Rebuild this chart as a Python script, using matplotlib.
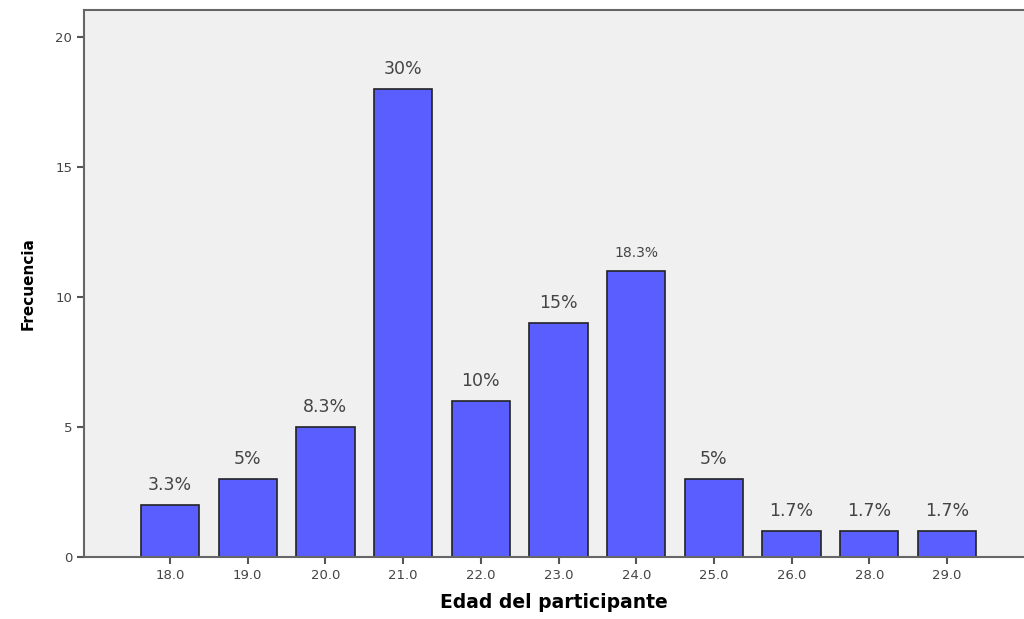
import numpy as np
import matplotlib.pyplot as plt

# datos del grafico
edades = ["18.0", "19.0", "20.0", "21.0", "22.0", "23.0", "24.0", "25.0", "26.0", "28.0", "29.0"]
frecuencia = [2, 3, 5, 18, 6, 9, 11, 3, 1, 1, 1]
porcentajes = ["3.3%", "5%", "8.3%", "30%", "10%", "15%", "18.3%", "5%", "1.7%", "1.7%", "1.7%"]

fig = plt.figure(figsize=(10.24, 6.19), dpi=100)
ax = fig.add_axes([84 / 1024, 1 - 557 / 619, 1 - 84 / 1024, (557 - 10) / 619])
ax.set_facecolor("#f0f0f0")

x = np.arange(len(edades))
ax.bar(x, frecuencia, width=0.75, color="#5a5eff", edgecolor="#222222", linewidth=1.2, zorder=2)

for xi, yi, lab in zip(x, frecuencia, porcentajes):
    size = 10 if lab == "18.3%" else 12.5
    ax.annotate(lab, (xi, yi), xytext=(0, 8), textcoords="offset points",
                ha="center", va="bottom", fontsize=size, color="#444444",
                family="DejaVu Sans")

ax.set_xlim(-1.107, (1024 - 170) / 77.7)
ax.set_ylim(0, 21.04)
ax.set_xticks(x)
ax.set_xticklabels(edades)
ax.set_yticks([0, 5, 10, 15, 20])

for s in ["left", "bottom", "top", "right"]:
    ax.spines[s].set_color("#666666")
    ax.spines[s].set_linewidth(1.5)
ax.spines["right"].set_visible(False)
ax.tick_params(axis="both", direction="out", length=5, width=1.5, color="#555555",
               labelsize=9.5, labelcolor="#444444")

ax.set_xlabel("Edad del participante", fontsize=13.5, fontweight="bold",
              family="DejaVu Sans", labelpad=8)
ax.set_ylabel("Frecuencia", fontsize=11, fontweight="bold",
              family="Liberation Sans Narrow", labelpad=14)

fig.savefig("out.png", dpi=100)
